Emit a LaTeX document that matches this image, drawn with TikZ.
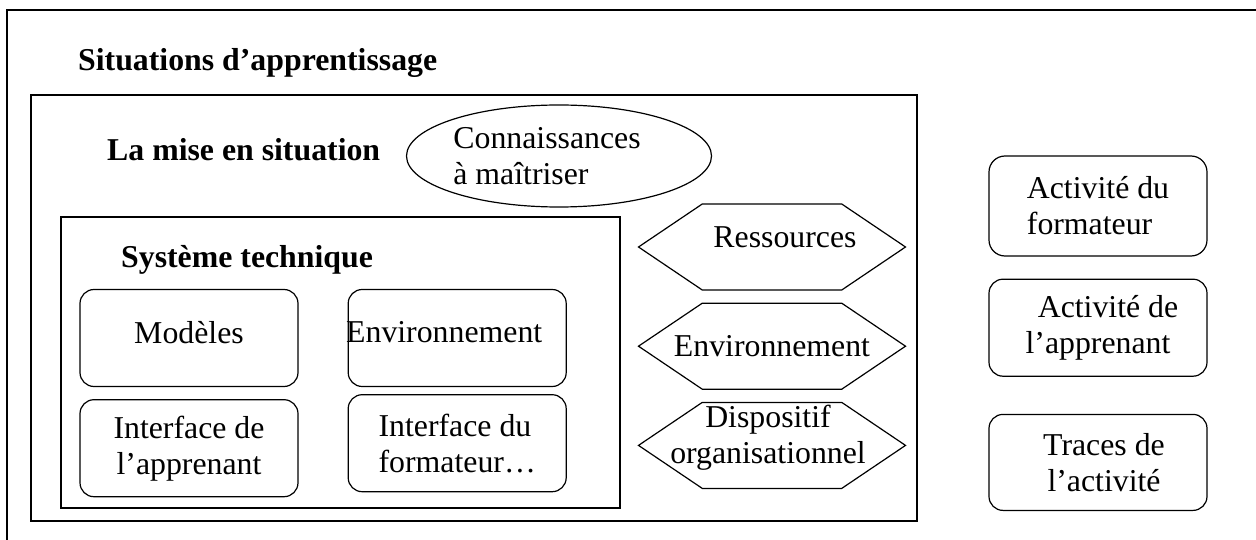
\documentclass[tikz,border=0pt]{standalone}
\usepackage{fontspec}
\setmainfont{Liberation Serif}
\usetikzlibrary{positioning,shapes.geometric,shapes.symbols}
\newcommand{\taille}{\fontsize{31.8}{36}\selectfont}
\tikzset{
  titre/.style = {font=\taille\bfseries, anchor=west, inner sep=0pt},
  cadre/.style = {draw, line width=1.3pt},
  bloc/.style  = {draw, rounded corners=14pt, line width=1.2pt,
                  minimum width=218pt, minimum height=97pt,
                  inner sep=0pt, align=center},
  hexa/.style  = {draw, signal, signal to=west and east,
                  signal pointer angle=68, line width=1.2pt,
                  minimum width=267pt, minimum height=86pt,
                  inner sep=0pt},
  bulle/.style = {draw, ellipse, line width=1.2pt,
                  minimum width=305pt, minimum height=102pt,
                  inner sep=0pt},
  dedans/.style = {align=center, inner sep=0pt}
}

\begin{document}
\begin{tikzpicture}[x=1pt,y=-1pt,font=\taille]
    \useasboundingbox (0,0) rectangle (1256,540);
    % cadres
    \draw[cadre] (1256,10) -| (7,540);
    \draw[cadre] (31,95) rectangle (917,521);
    \draw[cadre] (61,217) rectangle (620,508);
    \node[titre] (sit) at (78,63) {Situations d’apprentissage};
    \node[titre] (mise) at (107,150) {La mise en situation};
    \node[titre] (syst) at (121,260) {Système technique};
    \node[bulle,label={[dedans,align=left,xshift=-12pt]center:Connaissances\\à maîtriser}] (conn) at (559,156) {};
    % systeme technique
    \node[bloc,text depth=12pt] (mod) at (189,338) {Modèles};
    \node[bloc,right=49pt of mod,label={[dedans,xshift=-13pt,yshift=6pt]center:Environnement}] (envi) {};
    \node[bloc,below=12pt of mod] (iapp) {Interface de\\l’apprenant};
    \node[bloc,align=left,below=7pt of envi] (ifor) {Interface du\\formateur…};
    % hexagones
    \node[hexa,label={[dedans,xshift=13pt,yshift=10pt]center:Ressources}] (ress) at (772,247) {};
    \node[hexa,below=12pt of ress,label={[dedans]center:Environnement}] (envh) {};
    \node[hexa,below=12pt of envh,label={[dedans,xshift=-4pt,yshift=8pt]center:Dispositif\\organisationnel}] (disp) {};
    % activites
    \node[bloc,align=left,minimum height=100pt,rounded corners=16pt] (afor) at (1098,206) {Activité du\\formateur};
    \node[bloc,below=22pt of afor] (aapp) {\hspace*{20pt}Activité de\\l’apprenant};
    \node[bloc,minimum height=96pt,below=37pt of aapp] (trac) {\hspace*{12pt}Traces de\\\hspace*{12pt}l’activité};
\end{tikzpicture}
\end{document}
